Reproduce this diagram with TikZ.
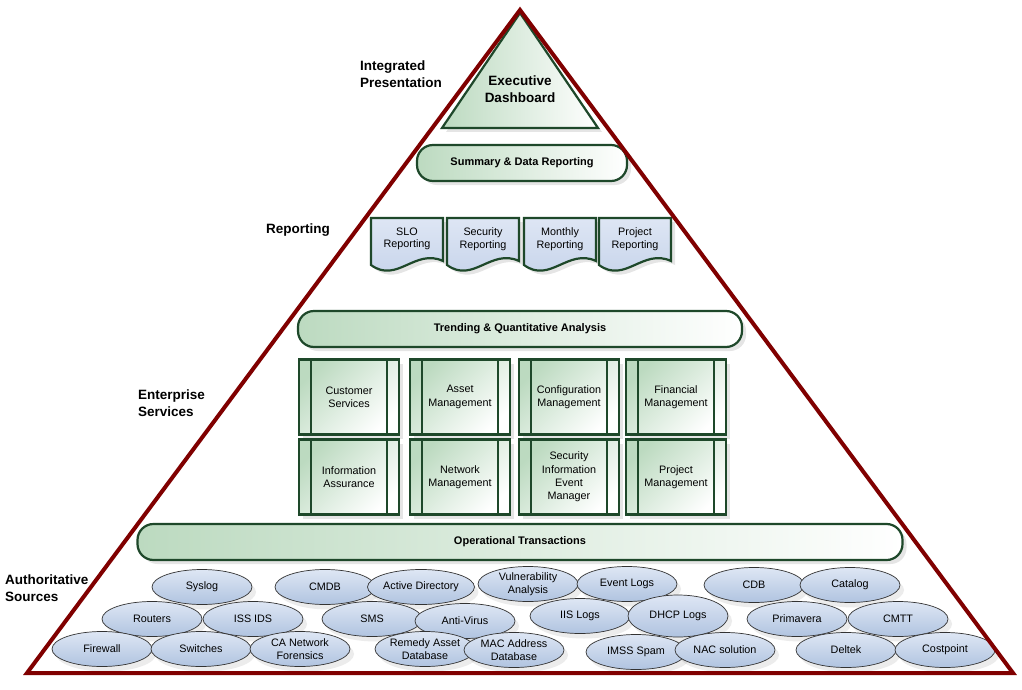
\documentclass[tikz,border=0pt]{standalone}
\usepackage{fontspec}
\setmainfont{Liberation Sans}
\usetikzlibrary{shapes.geometric, shadows}
\definecolor{pyramid}{RGB}{128, 0, 0}
\definecolor{edge}{RGB}{30, 72, 42}
\definecolor{leaf}{RGB}{188, 218, 192}
\definecolor{sky}{RGB}{176, 195, 224}
\definecolor{skylight}{RGB}{222, 230, 244}
\definecolor{paper}{RGB}{196, 210, 234}

\tikzset{
  tier/.style={font=\bfseries\fontsize{13.5}{16.5}\selectfont, align=left, anchor=west, inner sep=0pt},
  bar/.style={draw=edge, line width=2.2pt, rounded corners=16pt, left color=leaf, right color=white,
    font=\bfseries\fontsize{11}{13}\selectfont, minimum height=36pt, inner sep=0pt,
    drop shadow={opacity=0.2, shadow xshift=4pt, shadow yshift=-4pt}},
  service/.style={draw=edge, line width=2.2pt, left color=leaf, right color=white, shading angle=45,
    minimum width=100pt, minimum height=75pt, inner sep=0pt, align=center,
    font=\fontsize{10.8}{13.3}\selectfont,
    drop shadow={opacity=0.2, shadow xshift=4pt, shadow yshift=-4pt},
    path picture={\draw[edge, line width=2.2pt]
      ([xshift=12pt]path picture bounding box.north west) -- ([xshift=12pt]path picture bounding box.south west)
      ([xshift=-12pt]path picture bounding box.north east) -- ([xshift=-12pt]path picture bounding box.south east);}},
  doc/.style={draw=edge, line width=2.2pt, top color=skylight, bottom color=paper,
    drop shadow={opacity=0.2, shadow xshift=4pt, shadow yshift=-4pt}},
  doctext/.style={align=center, font=\fontsize{10.8}{12.5}\selectfont, inner sep=0pt},
  source/.style={ellipse, draw=black!80, line width=0.7pt, top color=skylight, bottom color=sky,
    minimum width=100pt, minimum height=35pt, inner sep=0pt, align=center,
    font=\fontsize{10.8}{12.5}\selectfont,
    drop shadow={opacity=0.15, shadow xshift=4pt, shadow yshift=-5pt}}
}

\begin{document}
\begin{tikzpicture}[x=1pt, y=-1pt]

  \useasboundingbox (0, 0) rectangle (1022, 690);
  \fill[white] (0, 0) rectangle (1022, 690);

  % tier labels
  \node[tier] (integrated) at (360, 74) {Integrated\\Presentation};
  \node[tier] (reporting) at (266, 230) {Reporting};
  \node[tier] (enterprise) at (138, 403) {Enterprise\\Services};
  \node[tier] (authoritative) at (5, 588) {Authoritative\\Sources};

  % executive dashboard
  \coordinate (dash top) at (520, 13);
  \coordinate (dash left) at (442, 128);
  \coordinate (dash right) at (598, 128);
  \draw[draw=edge, line width=2.2pt, left color=leaf, right color=white, line join=miter,
    drop shadow={opacity=0.2, shadow xshift=4pt, shadow yshift=-4pt}]
    (dash top) -- (dash right) -- (dash left) -- cycle;
  \node[font=\bfseries\fontsize{13.5}{16.5}\selectfont, align=center] (exec) at (520, 89) {Executive\\Dashboard};

  \node[bar, minimum width=210pt] (summary) at (522, 163) {Summary \& Data Reporting};

  % reports
  \foreach \l/\name/\txt in {371/slo/{SLO\\Reporting}, 447/security/{Security\\Reporting},
      524/monthly/{Monthly\\Reporting}, 599/project/{Project\\Reporting}} {
    \draw[doc] (\l, 218) -- (\l+72, 218) -- (\l+72, 261)
      .. controls (\l+44, 248) and (\l+26, 284) .. (\l, 265) -- cycle;
    \node[doctext] (\name) at (\l+36, 239) {\txt};
  }

  \node[bar, minimum width=444pt] (trending) at (520, 329) {Trending \& Quantitative Analysis};

  % enterprise services
  \node[service] (customer) at (349, 397) {Customer\\Services};
  \node[service] (asset) at (460, 397) {Asset\\Management};
  \node[service] (config) at (569, 397) {Configuration\\Management};
  \node[service] (financial) at (676, 397) {Financial\\Management};
  \node[service] (infoassure) at (349, 477) {Information\\Assurance};
  \node[service] (network) at (460, 477) {Network\\Management};
  \node[service] (siem) at (569, 477) {Security\\Information\\Event\\Manager};
  \node[service] (projmgmt) at (676, 477) {Project\\Management};

  \node[bar, minimum width=765pt] (operational) at (520, 542) {Operational Transactions};

  % authoritative sources
  \foreach \name/\x/\y/\txt in {syslog/202/587/Syslog, cmdb/325/587/CMDB,
      activedir/421/587/Active Directory, vuln/528/584/{Vulnerability\\Analysis},
      eventlogs/627/584/Event Logs, cdb/754/585/CDB, catalog/850/585/Catalog,
      routers/152/619/Routers, issids/253/619/ISS IDS, sms/372/619/SMS,
      antivirus/465/621/Anti-Virus, iislogs/580/616/IIS Logs} {
    \node[source] (\name) at (\x, \y) {\txt};
  }
  \node[source, minimum height=42pt] (dhcp) at (678, 616) {DHCP Logs};
  \foreach \name/\x/\y/\txt in {primavera/797/619/Primavera, cmtt/898/619/CMTT,
      firewall/102/649/Firewall, switches/201/649/Switches,
      caforensics/300/649/{CA Network\\Forensics}, remedy/425/649/{Remedy Asset\\Database},
      macaddr/514/650/{MAC Address\\Database}, imss/636/652/IMSS Spam,
      nac/725/650/NAC solution, deltek/846/650/Deltek, costpoint/945/650/Costpoint} {
    \node[source] (\name) at (\x, \y) {\txt};
  }

  % outer pyramid
  \coordinate (apex) at (520, 10);
  \coordinate (base left) at (27, 673);
  \coordinate (base right) at (1013, 673);
  \draw[pyramid, line width=4pt] (apex) -- (base right) -- (base left) -- cycle;

\end{tikzpicture}
\end{document}
